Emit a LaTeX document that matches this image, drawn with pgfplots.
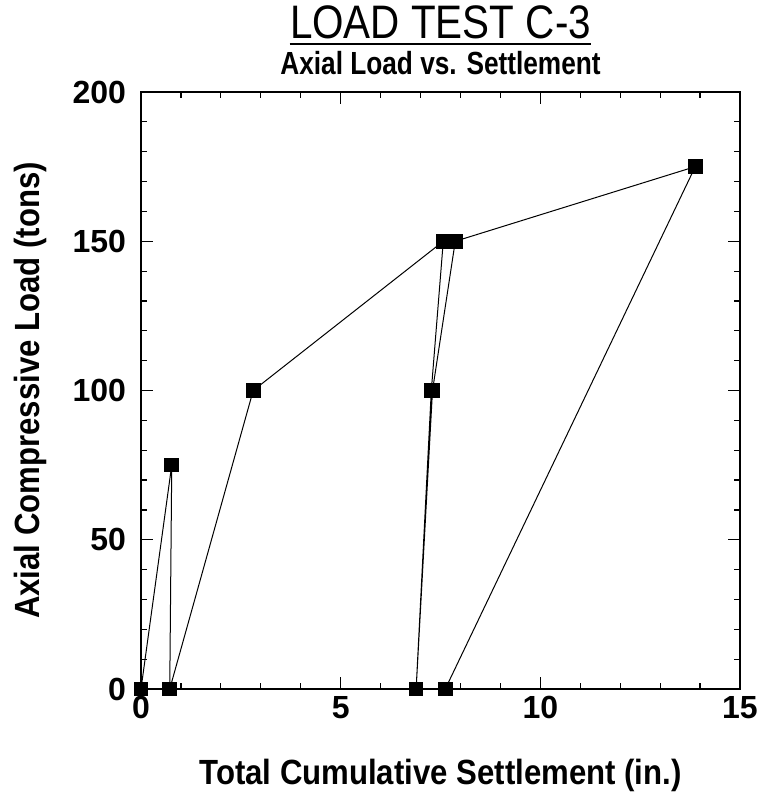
\documentclass[border=0pt]{standalone}
\usepackage{fontspec}
\setmainfont{Liberation Sans}
\newfontfamily\titlefont[FakeStretch=0.86]{Liberation Sans}
\newfontfamily\subtitlefont[FakeStretch=0.82]{Liberation Sans}
\newfontfamily\labelfont[FakeStretch=0.89]{Liberation Sans}
\usepackage{pgfplots}
\pgfplotsset{compat=1.18}
\begin{document}
\begin{tikzpicture}
\begin{axis}[
    width=299.5pt, height=298.5pt, scale only axis,
    xmin=0, xmax=15, ymin=0, ymax=200,
    xtick={0,5,10,15}, ytick={0,50,100,150,200},
    minor x tick num=4, minor y tick num=4,
    axis line style={line width=0.7pt},
    tick style={black, line width=0.6pt},
    major tick length=6pt, minor tick length=3pt,
    /pgf/number format/assume math mode=true,
    ticklabel style={font=\bfseries\fontsize{16}{16}\selectfont},
    yticklabel style={xshift=-4pt},
    label style={font=\labelfont\bfseries\fontsize{17.5}{18}\selectfont},
    xlabel={Total Cumulative Settlement (in.)},
    ylabel={Axial Compressive Load (tons)},
    xlabel style={at={(axis description cs:0.5,-0.144)}, anchor=center},
    ylabel style={at={(axis description cs:-0.185,0.5)}, anchor=center},
    clip=false,
]
\addplot[black, line width=0.5pt, mark=square*, mark size=3.4pt] coordinates {
    (0,0)
    (0.77,75)
    (0.72,0)
    (2.81,100)
    (7.57,150)
    (7.27,100)
    (6.89,0)
    (7.30,100)
    (7.87,150)
    (13.88,175)
    (7.62,0)
};
\end{axis}
% titles
\node[anchor=base, inner sep=0pt] (t) at ([yshift=26.5pt]current axis.north)
    {\titlefont\fontsize{23.5}{24}\selectfont LOAD TEST C-3};
\draw[line width=1.4pt] ([yshift=-2.5pt]t.base west) -- ([yshift=-2.5pt]t.base east);
\node[anchor=base, inner sep=0pt] at ([yshift=8.5pt]current axis.north)
    {\subtitlefont\bfseries\fontsize{16}{17}\selectfont Axial Load vs. Settlement};
\pgfresetboundingbox
\path[use as bounding box] ([shift={(-70.5pt,-52.5pt)}]current axis.south west)
    rectangle ([shift={(9pt,46pt)}]current axis.north east);
\end{tikzpicture}
\end{document}
